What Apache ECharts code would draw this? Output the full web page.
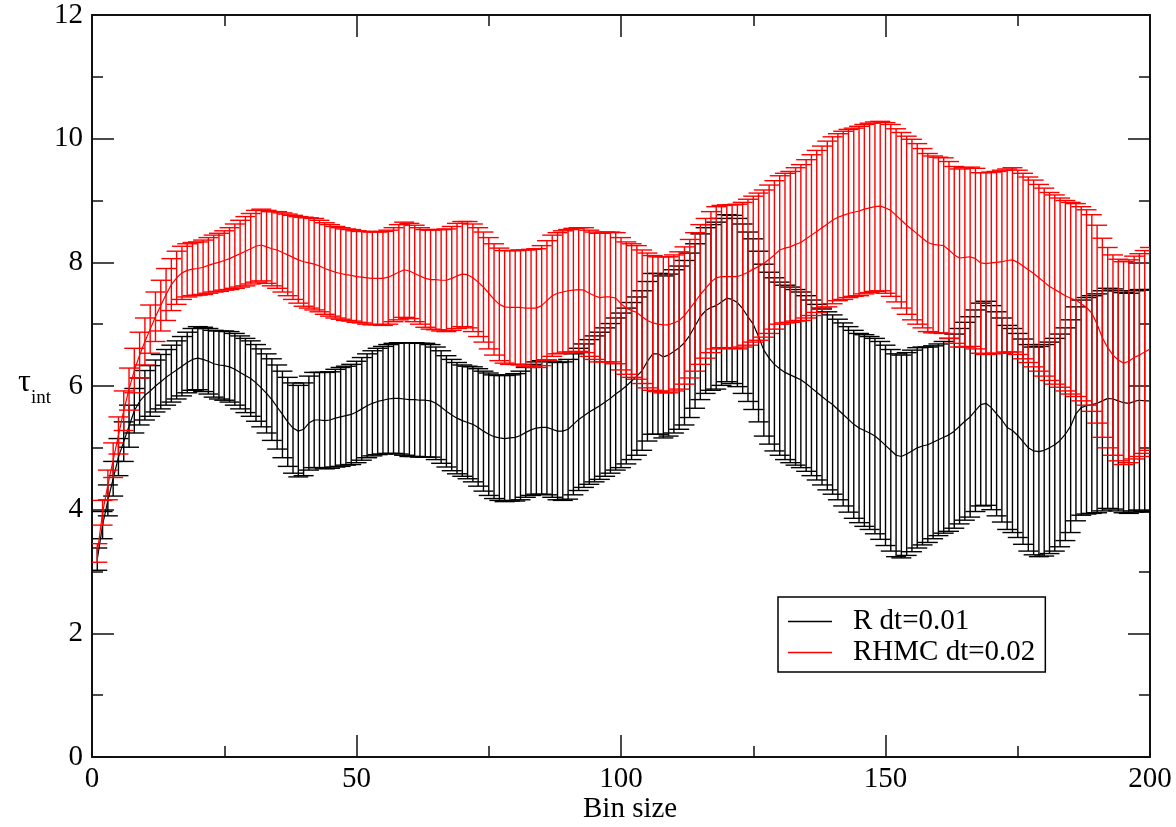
<!DOCTYPE html>
<html>
<head>
<meta charset="utf-8">
<script src="https://cdn.jsdelivr.net/npm/echarts@6/dist/echarts.min.js"></script>
<style>
html, body {margin: 0; padding: 0; background: #fff;}
#chart {width: 1176px; height: 827px;}
</style>
</head>
<body>
<div id="chart"></div>
<script>
	// bin sizes 1..200, one point per bin
	var binCount = 200;
	var seriesNames = ['R dt=0.01', 'RHMC dt=0.02'];
	var xTicks = [0, 50, 100, 150, 200];
	var yTicks = [0, 2, 4, 6, 8, 10, 12];

	// R dt=0.01 : tau_int and its error
	var rMean = [
		3.2, 3.75, 4.15, 4.5, 4.85, 5.1, 5.35, 5.6, 5.75, 5.85,
		5.92, 6.0, 6.07, 6.14, 6.2, 6.26, 6.32, 6.38, 6.43, 6.45,
		6.43, 6.4, 6.36, 6.34, 6.33, 6.31, 6.27, 6.22, 6.17, 6.12,
		6.05, 5.97, 5.88, 5.78, 5.66, 5.54, 5.42, 5.32, 5.27, 5.3,
		5.4, 5.45, 5.45, 5.44, 5.45, 5.48, 5.5, 5.52, 5.54, 5.58,
		5.63, 5.68, 5.72, 5.75, 5.77, 5.79, 5.8, 5.8, 5.79, 5.78,
		5.78, 5.77, 5.77, 5.76, 5.72, 5.66, 5.59, 5.53, 5.48, 5.44,
		5.41, 5.38, 5.33, 5.27, 5.22, 5.18, 5.16, 5.15, 5.16, 5.17,
		5.2, 5.25, 5.29, 5.32, 5.33, 5.33, 5.3, 5.27, 5.27, 5.3,
		5.38, 5.46, 5.52, 5.58, 5.63, 5.68, 5.74, 5.8, 5.87, 5.93,
		6.0, 6.08, 6.16, 6.25, 6.4, 6.52, 6.52, 6.47, 6.5, 6.56,
		6.62, 6.7, 6.82, 6.97, 7.12, 7.22, 7.27, 7.3, 7.36, 7.42,
		7.4, 7.35, 7.25, 7.12, 7.0, 6.8, 6.58, 6.45, 6.35, 6.28,
		6.22, 6.18, 6.14, 6.1, 6.04, 5.97, 5.9, 5.83, 5.76, 5.7,
		5.62, 5.54, 5.46, 5.38, 5.32, 5.28, 5.24, 5.19, 5.12, 5.04,
		4.96, 4.88, 4.86, 4.9, 4.95, 5.0, 5.03, 5.05, 5.09, 5.13,
		5.17, 5.21, 5.27, 5.35, 5.43, 5.5, 5.6, 5.7, 5.72, 5.65,
		5.55, 5.45, 5.33, 5.28, 5.2, 5.1, 5.0, 4.95, 4.94, 4.96,
		5.0, 5.05, 5.12, 5.22, 5.35, 5.55, 5.65, 5.68, 5.7, 5.72,
		5.76, 5.8, 5.79, 5.76, 5.73, 5.72, 5.75, 5.77, 5.76, 5.76
	];
	var rErr = [
		0.18, 0.22, 0.25, 0.28, 0.3, 0.32, 0.34, 0.36, 0.38, 0.4,
		0.41, 0.42, 0.44, 0.45, 0.46, 0.47, 0.48, 0.49, 0.5, 0.51,
		0.52, 0.53, 0.54, 0.55, 0.56, 0.57, 0.58, 0.59, 0.6, 0.61,
		0.62, 0.63, 0.64, 0.66, 0.68, 0.7, 0.72, 0.73, 0.74, 0.75,
		0.76, 0.77, 0.77, 0.78, 0.78, 0.79, 0.8, 0.8, 0.81, 0.82,
		0.83, 0.84, 0.85, 0.86, 0.87, 0.88, 0.89, 0.9, 0.91, 0.92,
		0.92, 0.92, 0.92, 0.91, 0.91, 0.91, 0.9, 0.9, 0.9, 0.9,
		0.91, 0.93, 0.95, 0.97, 0.99, 1.0, 1.01, 1.02, 1.02, 1.03,
		1.04, 1.05, 1.06, 1.07, 1.08, 1.09, 1.1, 1.11, 1.12, 1.13,
		1.14, 1.15, 1.16, 1.17, 1.18, 1.19, 1.2, 1.21, 1.23, 1.25,
		1.26, 1.27, 1.28, 1.29, 1.29, 1.3, 1.3, 1.31, 1.31, 1.32,
		1.32, 1.33, 1.33, 1.33, 1.34, 1.34, 1.34, 1.35, 1.35, 1.35,
		1.36, 1.36, 1.37, 1.37, 1.38, 1.38, 1.39, 1.39, 1.4, 1.4,
		1.41, 1.42, 1.42, 1.42, 1.42, 1.42, 1.42, 1.43, 1.44, 1.45,
		1.46, 1.48, 1.5, 1.52, 1.53, 1.55, 1.56, 1.58, 1.6, 1.62,
		1.63, 1.64, 1.64, 1.64, 1.63, 1.62, 1.6, 1.58, 1.56, 1.55,
		1.55, 1.56, 1.57, 1.58, 1.6, 1.62, 1.63, 1.64, 1.65, 1.65,
		1.65, 1.65, 1.65, 1.65, 1.65, 1.66, 1.67, 1.68, 1.7, 1.71,
		1.71, 1.72, 1.72, 1.72, 1.72, 1.73, 1.74, 1.75, 1.76, 1.77,
		1.78, 1.78, 1.78, 1.78, 1.78, 1.78, 1.79, 1.79, 1.79, 1.8
	];

	// RHMC dt=0.02 : tau_int and its error
	var rhmcMean = [
		3.3, 3.95, 4.4, 4.8, 5.2, 5.6, 5.95, 6.25, 6.5, 6.72,
		6.92, 7.12, 7.3, 7.48, 7.64, 7.75, 7.83, 7.87, 7.89, 7.9,
		7.92, 7.95, 7.98, 8.0, 8.03, 8.06, 8.1, 8.14, 8.18, 8.22,
		8.26, 8.28, 8.25, 8.22, 8.2, 8.16, 8.12, 8.08, 8.04, 8.01,
		7.99, 7.97, 7.94, 7.9, 7.87, 7.84, 7.82, 7.8, 7.79, 7.77,
		7.76, 7.75, 7.74, 7.74, 7.74, 7.76, 7.8, 7.84, 7.88, 7.86,
		7.82, 7.78, 7.74, 7.72, 7.72, 7.71, 7.71, 7.74, 7.78, 7.81,
		7.8, 7.75, 7.68, 7.6, 7.5, 7.4, 7.32, 7.28, 7.27, 7.27,
		7.27, 7.26, 7.26, 7.26, 7.3, 7.38, 7.46, 7.5, 7.52, 7.54,
		7.55, 7.56, 7.55, 7.5, 7.46, 7.43, 7.44, 7.44, 7.42, 7.33,
		7.26, 7.22, 7.19, 7.12, 7.06, 7.02, 7.0, 6.99, 6.99, 7.02,
		7.06, 7.14, 7.25, 7.36, 7.48, 7.58, 7.68, 7.75, 7.77, 7.77,
		7.77, 7.77, 7.8, 7.84, 7.89, 7.93, 7.98, 8.05, 8.12, 8.2,
		8.23, 8.25, 8.29, 8.32, 8.38, 8.44, 8.5, 8.56, 8.62, 8.68,
		8.73, 8.76, 8.79, 8.81, 8.83, 8.86, 8.88, 8.9, 8.91, 8.88,
		8.84, 8.76, 8.68, 8.6, 8.53, 8.46, 8.39, 8.32, 8.29, 8.28,
		8.27, 8.2, 8.12, 8.07, 8.08, 8.09, 8.06, 7.99, 7.98, 7.99,
		8.0, 8.01, 8.03, 8.04, 8.0, 7.94, 7.88, 7.82, 7.75, 7.68,
		7.61, 7.56, 7.51, 7.46, 7.42, 7.39, 7.33, 7.27, 7.18, 7.0,
		6.78, 6.62, 6.5, 6.42, 6.37, 6.4, 6.46, 6.5, 6.55, 6.6
	];
	var rhmcErr = [
		0.15, 0.2, 0.24, 0.28, 0.3, 0.32, 0.34, 0.36, 0.37, 0.38,
		0.39, 0.4, 0.41, 0.42, 0.42, 0.43, 0.43, 0.43, 0.43, 0.43,
		0.44, 0.45, 0.46, 0.47, 0.48, 0.5, 0.52, 0.54, 0.56, 0.57,
		0.58, 0.58, 0.59, 0.6, 0.62, 0.64, 0.66, 0.68, 0.7, 0.72,
		0.73, 0.74, 0.74, 0.74, 0.74, 0.74, 0.74, 0.74, 0.74, 0.74,
		0.74, 0.75, 0.75, 0.75, 0.76, 0.76, 0.76, 0.77, 0.77, 0.77,
		0.78, 0.78, 0.79, 0.8, 0.81, 0.82, 0.83, 0.84, 0.85, 0.85,
		0.86, 0.87, 0.88, 0.89, 0.9, 0.9, 0.91, 0.91, 0.92, 0.92,
		0.93, 0.94, 0.95, 0.96, 0.97, 0.97, 0.98, 0.98, 0.99, 0.99,
		1.0, 1.0, 1.01, 1.02, 1.03, 1.04, 1.05, 1.05, 1.06, 1.07,
		1.07, 1.08, 1.08, 1.08, 1.09, 1.09, 1.09, 1.1, 1.1, 1.1,
		1.11, 1.11, 1.12, 1.12, 1.13, 1.13, 1.14, 1.15, 1.15, 1.16,
		1.16, 1.17, 1.17, 1.18, 1.18, 1.19, 1.19, 1.2, 1.2, 1.2,
		1.21, 1.22, 1.24, 1.26, 1.28, 1.3, 1.31, 1.32, 1.34, 1.35,
		1.35, 1.36, 1.36, 1.36, 1.37, 1.37, 1.37, 1.37, 1.37, 1.38,
		1.39, 1.4, 1.42, 1.44, 1.46, 1.46, 1.45, 1.44, 1.43, 1.42,
		1.42, 1.43, 1.43, 1.44, 1.45, 1.45, 1.46, 1.46, 1.47, 1.47,
		1.47, 1.48, 1.48, 1.49, 1.49, 1.5, 1.5, 1.51, 1.51, 1.52,
		1.52, 1.53, 1.53, 1.54, 1.55, 1.56, 1.57, 1.58, 1.59, 1.6,
		1.61, 1.62, 1.62, 1.63, 1.64, 1.64, 1.64, 1.64, 1.64, 1.64
	];

	var font = '"Liberation Serif", "DejaVu Serif", serif';

	function meanData(mean) {
		var out = [];
		for (var i = 0; i < binCount; i++) out.push([i + 1, mean[i]]);
		return out;
	}
	function errData(mean, err) {
		var out = [];
		for (var i = 0; i < binCount; i++) out.push([i + 1, mean[i] - err[i], mean[i] + err[i]]);
		return out;
	}

	// vertical bar with a cap on each end
	function errorBar(color) {
		return function(params, api) {
			var hi = api.coord([api.value(0), api.value(2)]);
			var lo = api.coord([api.value(0), api.value(1)]);
			var half = 10;
			var style = {stroke: color, lineWidth: 1.4};
			return {
				type: 'group',
				children: [
					{type: 'line', shape: {x1: hi[0], y1: hi[1], x2: lo[0], y2: lo[1]}, style: style},
					{type: 'line', shape: {x1: hi[0] - half, y1: hi[1], x2: hi[0] + half, y2: hi[1]}, style: style},
					{type: 'line', shape: {x1: lo[0] - half, y1: lo[1], x2: lo[0] + half, y2: lo[1]}, style: style}
				]
			};
		};
	}

	function xAxisOpt(pos, labels) {
		return {
			type: 'value', position: pos, min: xTicks[0], max: xTicks[xTicks.length - 1],
			interval: xTicks[1] - xTicks[0],
			axisLine: {show: true, onZero: false, lineStyle: {color: '#111', width: 2}},
			axisTick: {show: true, inside: true, length: 22, lineStyle: {color: '#111', width: 1.5}},
			minorTick: {show: true, splitNumber: 2, length: 11, lineStyle: {color: '#111', width: 1.5}},
			splitLine: {show: false},
			axisLabel: {show: labels, color: '#000', fontFamily: font, fontSize: 29, margin: 8}
		};
	}
	function yAxisOpt(pos, labels) {
		return {
			type: 'value', position: pos, min: yTicks[0], max: yTicks[yTicks.length - 1],
			interval: yTicks[1] - yTicks[0],
			axisLine: {show: true, onZero: false, lineStyle: {color: '#111', width: 2}},
			axisTick: {show: true, inside: true, length: 22, lineStyle: {color: '#111', width: 1.5}},
			minorTick: {show: true, splitNumber: 2, length: 11, lineStyle: {color: '#111', width: 1.5}},
			splitLine: {show: false},
			axisLabel: {show: labels, color: '#000', fontFamily: font, fontSize: 29, margin: 9}
		};
	}

	var myChart = echarts.init(document.getElementById('chart'), null, {renderer: 'canvas'});
	var option = {
		animation: false,
		backgroundColor: '#fff',
		grid: {left: 92, right: 26, top: 15, bottom: 70},
		xAxis: [xAxisOpt('bottom', true), xAxisOpt('top', false)],
		yAxis: [yAxisOpt('left', true), yAxisOpt('right', false)],
		legend: {
			orient: 'vertical',
			left: 778, top: 597,
			data: [
				{name: seriesNames[0], icon: 'rect'},
				{name: seriesNames[1], icon: 'rect'}
			],
			borderColor: '#000', borderWidth: 1.5, borderRadius: 0,
			padding: [10, 10, 5, 10],
			itemGap: 2, itemWidth: 44, itemHeight: 1.5,
			textStyle: {color: '#000', fontFamily: font, fontSize: 29, padding: [0, 0, 0, 16]}
		},
		graphic: [
			{type: 'text', left: 18, top: 367, style: {text: 'τ', font: '32px ' + font, fill: '#000'}},
			{type: 'text', left: 31, top: 389, style: {text: 'int', font: '19px ' + font, fill: '#000'}},
			{type: 'text', left: 583, top: 795, style: {text: 'Bin size', font: '29px ' + font, fill: '#000'}}
		],
		series: [
			{
				name: seriesNames[0], type: 'custom', xAxisIndex: 0, yAxisIndex: 0, clip: true,
				renderItem: errorBar('#000'), itemStyle: {color: '#000'},
				encode: {x: 0, y: [1, 2]},
				data: errData(rMean, rErr), z: 2
			},
			{
				name: seriesNames[0], type: 'line', symbol: 'none', clip: true,
				lineStyle: {color: '#000', width: 1.2}, itemStyle: {color: '#000'},
				data: meanData(rMean), z: 3
			},
			{
				name: seriesNames[1], type: 'custom', xAxisIndex: 0, yAxisIndex: 0, clip: true,
				renderItem: errorBar('#ff0000'), itemStyle: {color: '#ff0000'},
				encode: {x: 0, y: [1, 2]},
				data: errData(rhmcMean, rhmcErr), z: 4
			},
			{
				name: seriesNames[1], type: 'line', symbol: 'none', clip: true,
				lineStyle: {color: '#ff0000', width: 1.2}, itemStyle: {color: '#ff0000'},
				data: meanData(rhmcMean), z: 5
			}
		]
	};
	myChart.setOption(option);
</script>
</body>
</html>
